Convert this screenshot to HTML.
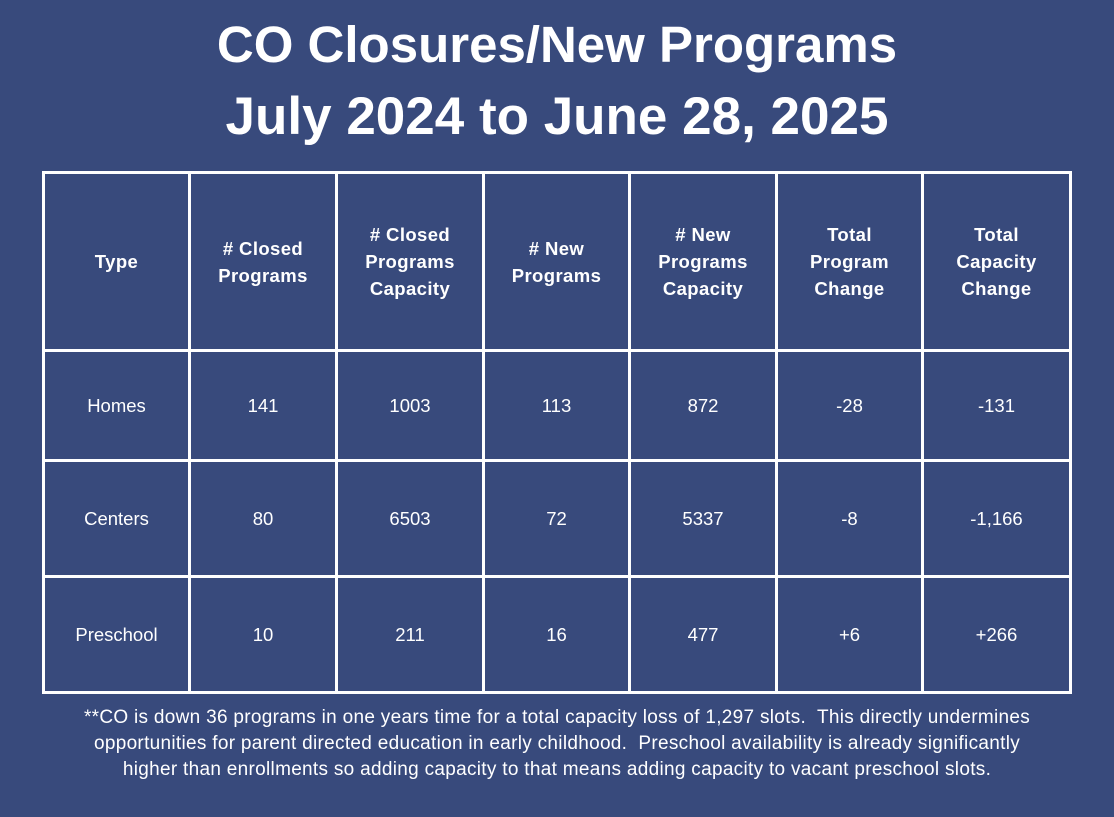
<!DOCTYPE html>
<html><head><style>
*{margin:0;padding:0;box-sizing:border-box}
body{width:1114px;height:817px;background:#384a7c;font-family:"Liberation Sans",sans-serif;color:#fff;position:relative;overflow:hidden}
.t{position:absolute;left:0;width:1114px;text-align:center;font-weight:bold;font-size:51px;line-height:56px}
.h{position:absolute;background:#fff}
.c{position:absolute;display:flex;align-items:center;justify-content:center;text-align:center;font-size:18.5px;line-height:27px}
.b{font-weight:bold;letter-spacing:0.4px}
.f{position:absolute;left:0;width:1114px;text-align:center;font-size:19px;letter-spacing:0.3px;line-height:26px;top:705px;white-space:nowrap}
</style></head><body>
<div class="t" style="top:17px">CO Closures/New Programs</div>
<div class="t" style="top:89px;font-size:53px">July 2024 to June 28, 2025</div>
<div class="h" style="left:42px;top:171px;width:1030px;height:3px"></div>
<div class="h" style="left:42px;top:349px;width:1030px;height:3px"></div>
<div class="h" style="left:42px;top:459px;width:1030px;height:3px"></div>
<div class="h" style="left:42px;top:575px;width:1030px;height:3px"></div>
<div class="h" style="left:42px;top:691px;width:1030px;height:3px"></div>
<div class="h" style="left:42px;top:171px;width:3px;height:523px"></div>
<div class="h" style="left:188px;top:171px;width:3px;height:523px"></div>
<div class="h" style="left:335px;top:171px;width:3px;height:523px"></div>
<div class="h" style="left:482px;top:171px;width:3px;height:523px"></div>
<div class="h" style="left:628px;top:171px;width:3px;height:523px"></div>
<div class="h" style="left:775px;top:171px;width:3px;height:523px"></div>
<div class="h" style="left:921px;top:171px;width:3px;height:523px"></div>
<div class="h" style="left:1069px;top:171px;width:3px;height:523px"></div>

<div class="c b" style="left:45px;top:174px;width:143px;height:175px">Type</div>
<div class="c b" style="left:191px;top:174px;width:144px;height:175px">#&nbsp;Closed<br>Programs</div>
<div class="c b" style="left:338px;top:174px;width:144px;height:175px">#&nbsp;Closed<br>Programs<br>Capacity</div>
<div class="c b" style="left:485px;top:174px;width:143px;height:175px"># New<br>Programs</div>
<div class="c b" style="left:631px;top:174px;width:144px;height:175px"># New<br>Programs<br>Capacity</div>
<div class="c b" style="left:778px;top:174px;width:143px;height:175px">Total<br>Program<br>Change</div>
<div class="c b" style="left:924px;top:174px;width:145px;height:175px">Total<br>Capacity<br>Change</div>

<div class="c" style="left:45px;top:352px;width:143px;height:107px">Homes</div>
<div class="c" style="left:191px;top:352px;width:144px;height:107px">141</div>
<div class="c" style="left:338px;top:352px;width:144px;height:107px">1003</div>
<div class="c" style="left:485px;top:352px;width:143px;height:107px">113</div>
<div class="c" style="left:631px;top:352px;width:144px;height:107px">872</div>
<div class="c" style="left:778px;top:352px;width:143px;height:107px">-28</div>
<div class="c" style="left:924px;top:352px;width:145px;height:107px">-131</div>

<div class="c" style="left:45px;top:462px;width:143px;height:113px">Centers</div>
<div class="c" style="left:191px;top:462px;width:144px;height:113px">80</div>
<div class="c" style="left:338px;top:462px;width:144px;height:113px">6503</div>
<div class="c" style="left:485px;top:462px;width:143px;height:113px">72</div>
<div class="c" style="left:631px;top:462px;width:144px;height:113px">5337</div>
<div class="c" style="left:778px;top:462px;width:143px;height:113px">-8</div>
<div class="c" style="left:924px;top:462px;width:145px;height:113px">-1,166</div>

<div class="c" style="left:45px;top:578px;width:143px;height:113px">Preschool</div>
<div class="c" style="left:191px;top:578px;width:144px;height:113px">10</div>
<div class="c" style="left:338px;top:578px;width:144px;height:113px">211</div>
<div class="c" style="left:485px;top:578px;width:143px;height:113px">16</div>
<div class="c" style="left:631px;top:578px;width:144px;height:113px">477</div>
<div class="c" style="left:778px;top:578px;width:143px;height:113px">+6</div>
<div class="c" style="left:924px;top:578px;width:145px;height:113px">+266</div>

<div class="f">**CO is down 36 programs in one years time for a total capacity loss of 1,297 slots.&nbsp; This directly undermines<br>opportunities for parent directed education in early childhood.&nbsp; Preschool availability is already significantly<br>higher than enrollments so adding capacity to that means adding capacity to vacant preschool slots.</div>
</body></html>
